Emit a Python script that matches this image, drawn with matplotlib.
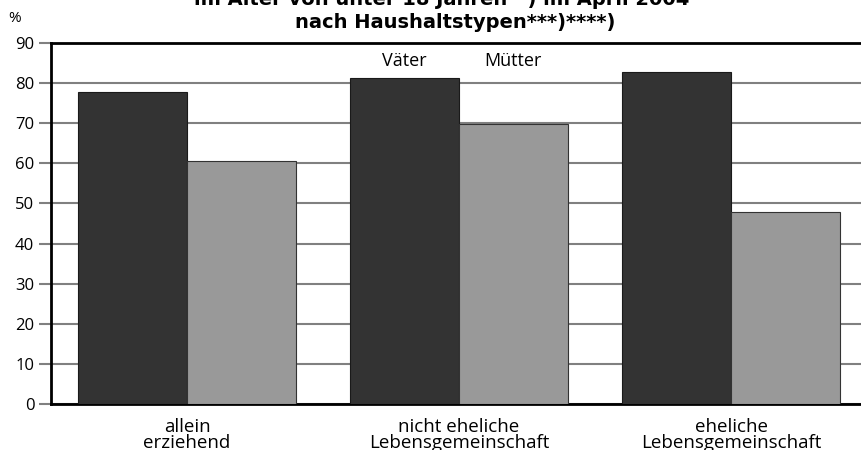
import matplotlib.pyplot as plt
import numpy as np

plt.rcParams['font.family'] = ['Open Sans', 'DejaVu Sans']

# data
categories = ['allein\nerziehend', 'nicht eheliche\nLebensgemeinschaft', 'eheliche\nLebensgemeinschaft']
vaeter = [77.7, 81.3, 82.7]
muetter = [60.5, 69.9, 47.8]
yticks = [0, 10, 20, 30, 40, 50, 60, 70, 80, 90]

fig = plt.figure(figsize=(8.61, 4.5), dpi=100)
ax = fig.add_axes([51 / 861, 1 - 404 / 450, 816 / 861, 361 / 450])

x = np.arange(len(categories))
w = 0.4
ax.bar(x - w / 2, vaeter, w, color='#333333', edgecolor='#1a1a1a', linewidth=0.8, zorder=3)
ax.bar(x + w / 2, muetter, w, color='#999999', edgecolor='#333333', linewidth=0.8, zorder=3)

# series labels above the middle group
ax.text(x[1] - w / 2, 85.5, 'Väter', ha='center', va='center', fontsize=13)
ax.text(x[1] + w / 2, 85.5, 'Mütter', ha='center', va='center', fontsize=13)

ax.set_xlim(-0.5, 2.5)
ax.set_ylim(0, 90)
ax.set_yticks(yticks)
ax.tick_params(axis='y', length=9, width=1.5, color='#808080', labelsize=12, pad=3)
ax.set_xticks(x)
ax.set_xticklabels(categories, fontsize=13.5, linespacing=0.9)
ax.tick_params(axis='x', length=0, pad=10)
ax.yaxis.grid(True, color='#808080', linewidth=1.5, zorder=0)
ax.set_axisbelow(True)

for s in ['left', 'bottom', 'top']:
    ax.spines[s].set_linewidth(2)
    ax.spines[s].set_color('black')
ax.spines['right'].set_visible(False)

fig.text(15 / 861, 1 - 18 / 450, '%', fontsize=11, ha='center', va='center')
fig.text(442 / 861, 1 - 5 / 450, 'im Alter von unter 18 Jahren**) im April 2004',
         family='DejaVu Sans', fontsize=14, fontweight='bold', ha='center', va='baseline')
fig.text(455 / 861, 1 - 28 / 450, 'nach Haushaltstypen***)****)',
         family='DejaVu Sans', fontsize=14, fontweight='bold', ha='center', va='baseline')

fig.savefig('out.png', dpi=100)
